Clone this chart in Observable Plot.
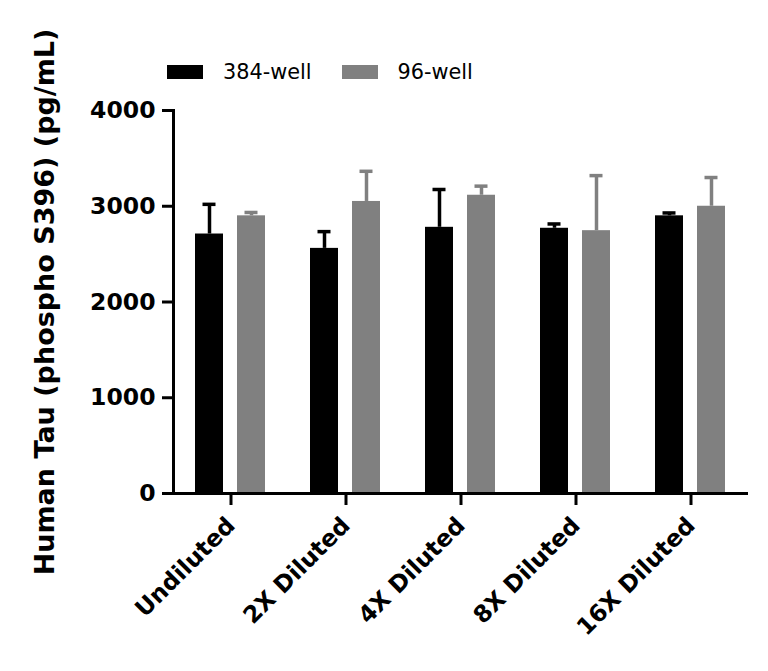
<!DOCTYPE html>
<html>
<head>
<meta charset="utf-8">
<script src="https://cdn.jsdelivr.net/npm/d3@7"></script>
<script src="https://cdn.jsdelivr.net/npm/@observablehq/plot@0.6"></script>
<style>
  html, body { margin: 0; padding: 0; background: #fff; }
  #wrap { position: relative; width: 768px; height: 671px; }
  #chart svg text { font-weight: bold; }
  #legend { position: absolute; left: 167px; top: 60px; display: flex; align-items: center;
            font-family: "DejaVu Sans", sans-serif; font-size: 20.8px; color: #000; }
  .sw { display: inline-block; width: 36px; height: 14px; margin-right: 20px; }
  .item { display: flex; align-items: center; margin-right: 30px; }
</style>
</head>
<body>
<div id="wrap">
  <div id="chart"></div>
  <div id="legend"></div>
</div>
<script>
const categories = ["Undiluted", "2X Diluted", "4X Diluted", "8X Diluted", "16X Diluted"];
const series = ["384-well", "96-well"];
const colors = ["#000000", "#808080"];
const mean384 = [2710, 2560, 2780, 2770, 2900];
const sd384 = [310, 175, 395, 45, 30];
const mean96 = [2900, 3050, 3115, 2745, 3000];
const sd96 = [35, 315, 95, 575, 300];
const yTicks = [0, 1000, 2000, 3000, 4000];
const yTitle = "Human Tau (phospho S396) (pg/mL)";

const data = [];
categories.forEach((c, i) => {
  data.push({cat: c, series: series[0], mean: mean384[i], sd: sd384[i]});
  data.push({cat: c, series: series[1], mean: mean96[i], sd: sd96[i]});
});

const chart = Plot.plot({
  width: 768,
  height: 671,
  marginLeft: 172,
  marginRight: 19,
  marginTop: 110,
  marginBottom: 178,
  style: {fontFamily: "DejaVu Sans, sans-serif", color: "#000", background: "#fff"},
  fx: {domain: categories, padding: 0, label: null},
  x: {domain: series, paddingInner: 0.326, paddingOuter: 0.505, axis: null},
  y: {domain: [0, 4000], label: yTitle},
  color: {domain: series, range: colors},
  marks: [
    Plot.barY(data, {fx: "cat", x: "series", y: "mean", fill: "series"}),
    Plot.ruleX(data, {fx: "cat", x: "series", y1: "mean", y2: d => d.mean + d.sd, stroke: "series", strokeWidth: 3.5}),
    Plot.tickY(data, {fx: "cat", x: "series", y: d => d.mean + d.sd, stroke: "series", strokeWidth: 3.5, insetLeft: 7.5, insetRight: 7.5}),
    Plot.ruleY([0], {strokeWidth: 3}),
    Plot.frame({anchor: "left", facet: "super", strokeWidth: 3}),
    Plot.axisY({ticks: yTicks, tickFormat: "d", tickSize: 11, tickPadding: 7, strokeWidth: 3, fontSize: 23.5, label: null}),
    Plot.axisY({ticks: [], label: yTitle, labelAnchor: "center", labelArrow: "none", labelOffset: 139, fontSize: 27}),
    Plot.axisFx({anchor: "bottom", tickSize: 12, tickPadding: 16, strokeWidth: 3, fontSize: 23.5,
      tickRotate: -45, label: null})
  ]
});
document.getElementById("chart").appendChild(chart);

const legend = document.getElementById("legend");
series.forEach((s, i) => {
  const it = document.createElement("span");
  it.className = "item";
  const sw = document.createElement("span");
  sw.className = "sw";
  sw.style.background = colors[i];
  it.appendChild(sw);
  it.appendChild(document.createTextNode(s));
  legend.appendChild(it);
});
</script>
</body>
</html>
